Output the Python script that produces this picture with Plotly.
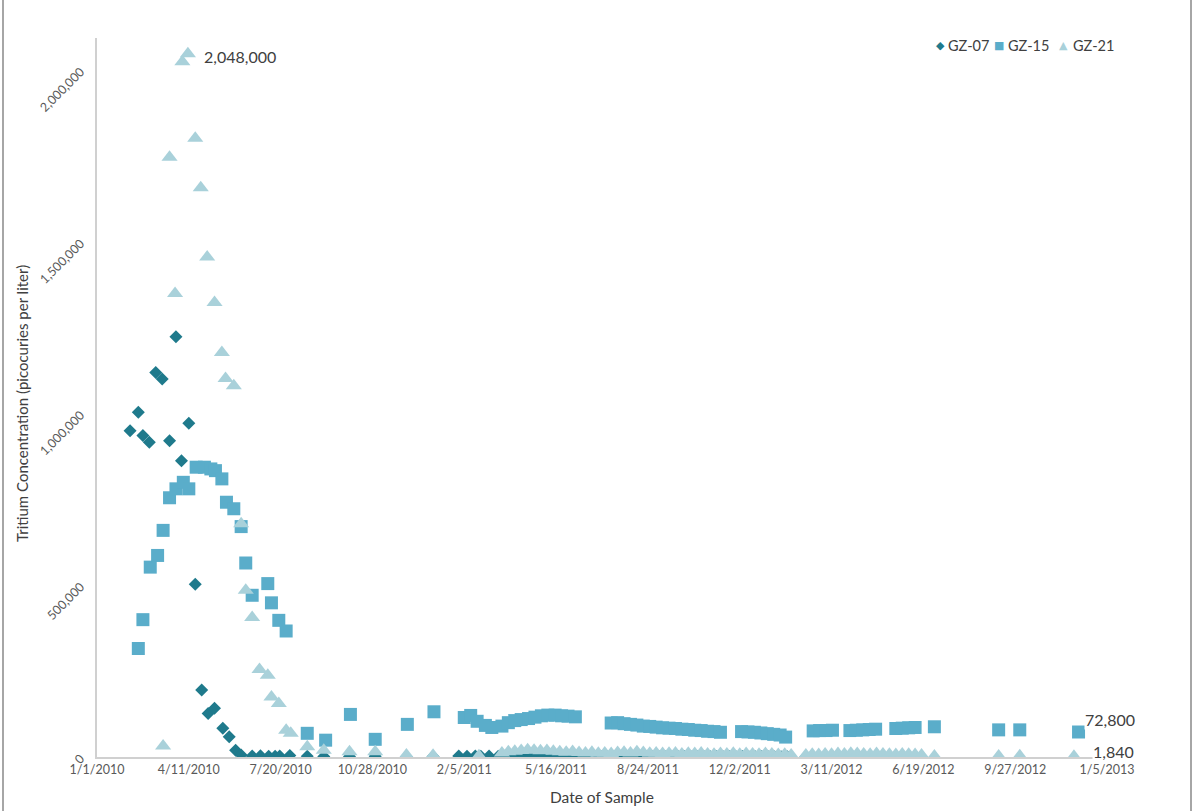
import plotly.graph_objects as go

# ---------------- data ----------------
gz07_dates = [
    "2010-02-06", "2010-02-15", "2010-02-20", "2010-02-27", "2010-03-06", "2010-03-13",
    "2010-03-21", "2010-03-28", "2010-04-03", "2010-04-11", "2010-04-18", "2010-04-25",
    "2010-05-02", "2010-05-09", "2010-05-18", "2010-05-25", "2010-06-01", "2010-06-07",
    "2010-06-19", "2010-06-28", "2010-07-07", "2010-07-14", "2010-07-19", "2010-07-30",
    "2010-08-18", "2010-09-05", "2010-10-03", "2010-10-31", "2010-12-04", "2011-01-02",
    "2011-01-30", "2011-02-08", "2011-02-17", "2011-02-23", "2011-03-04", "2011-03-14",
    "2011-03-21", "2011-03-28", "2011-04-04", "2011-04-11", "2011-04-18", "2011-04-25",
    "2011-05-02", "2011-05-09", "2011-05-16", "2011-05-23", "2011-05-30", "2011-06-06",
    "2011-06-13", "2011-06-20", "2011-06-27", "2011-07-04", "2011-07-11", "2011-07-18",
    "2011-07-25", "2011-08-01", "2011-08-08", "2011-08-15", "2011-08-22", "2011-08-29",
    "2011-09-05", "2011-09-12", "2011-09-19", "2011-09-26", "2011-10-03", "2011-10-10",
    "2011-10-17", "2011-10-24", "2011-10-31", "2011-11-07", "2011-11-14", "2011-11-21",
    "2011-11-28", "2011-12-05", "2011-12-12", "2011-12-19", "2011-12-26", "2012-01-02",
    "2012-01-09", "2012-01-16", "2012-01-23", "2012-02-12", "2012-03-17",
]
gz07_values = [
    950000, 1004000, 936000, 917000, 1120000, 1101000,
    921000, 1224000, 863000, 972000, 503000, 195000,
    127000, 142000, 84000, 59000, 20000, 6000,
    3000, 3500, 2500, 2000, 3000, 4500,
    2500, 1500, 1500, 2000, 1000, 1200,
    3000, 2500, 3000, 2500, 3000, 2000,
    2000, 1500, 1800, 1200, 1500, 1700,
    1400, 1600, 1300, 1500, 1200, 1400,
    1600, 1300, 1500, 1200, 1400, 1100,
    1300, 1500, 1200, 1400, 1100, 1300,
    1200, 1000, 1300, 1100, 1200, 1000,
    1100, 1300, 1000, 1200, 900, 1100,
    1000, 1200, 900, 1000, 1100, 900,
    1000, 800, 900, 800, 700,
]

gz15_dates = [
    "2010-02-15", "2010-02-20", "2010-02-28", "2010-03-08", "2010-03-14", "2010-03-21",
    "2010-03-28", "2010-04-05", "2010-04-11", "2010-04-19", "2010-04-28", "2010-05-05",
    "2010-05-10", "2010-05-17", "2010-05-22", "2010-05-30", "2010-06-07", "2010-06-12",
    "2010-06-19", "2010-07-06", "2010-07-10", "2010-07-18", "2010-07-26", "2010-08-18",
    "2010-09-07", "2010-10-04", "2010-10-31", "2010-12-05", "2011-01-03",
    "2011-02-05", "2011-02-12", "2011-02-19", "2011-02-28", "2011-03-07", "2011-03-18",
    "2011-03-25", "2011-04-01", "2011-04-08", "2011-04-16", "2011-04-23", "2011-04-30",
    "2011-05-07", "2011-05-15", "2011-05-22", "2011-05-29", "2011-06-06",
    "2011-07-15", "2011-07-22", "2011-07-29", "2011-08-05", "2011-08-12", "2011-08-19",
    "2011-08-26", "2011-09-02", "2011-09-09", "2011-09-16", "2011-09-23", "2011-09-30",
    "2011-10-07", "2011-10-14", "2011-10-21", "2011-10-28", "2011-11-04", "2011-11-11",
    "2011-12-04", "2011-12-11", "2011-12-18", "2011-12-25", "2012-01-01", "2012-01-08",
    "2012-01-15", "2012-01-21",
    "2012-02-20", "2012-02-27", "2012-03-05", "2012-03-12",
    "2012-03-31", "2012-04-07", "2012-04-14", "2012-04-21", "2012-04-28",
    "2012-05-20", "2012-05-27", "2012-06-03", "2012-06-10", "2012-07-01",
    "2012-09-09", "2012-10-02", "2012-12-05",
]
gz15_values = [
    316000, 400000, 553000, 587000, 660000, 755000,
    781000, 800000, 781000, 844000, 844000, 839000,
    834000, 810000, 742000, 723000, 671000, 565000,
    471000, 505000, 449000, 398000, 367000, 69000,
    49000, 124000, 51500, 95000, 131700,
    115000, 121000, 104000, 92000, 86000, 90000,
    100000, 106000, 109000, 112000, 116000, 120000,
    122000, 122000, 120000, 119000, 117000,
    99000, 100000, 97000, 95000, 93000, 90000,
    89000, 87000, 85000, 84000, 83000, 81000,
    80000, 78000, 77000, 75000, 74000, 72000,
    74000, 73000, 72000, 70000, 68000, 66000,
    64000, 58000,
    76000, 77000, 77000, 78000,
    77000, 78000, 79000, 80000, 81000,
    83000, 84000, 85000, 86000, 88000,
    79000, 79000, 72800,
]

gz21_dates = [
    "2010-03-14", "2010-03-21", "2010-03-27", "2010-04-04", "2010-04-10", "2010-04-18",
    "2010-04-24", "2010-05-01", "2010-05-09", "2010-05-17", "2010-05-21", "2010-05-30",
    "2010-06-07", "2010-06-12", "2010-06-19", "2010-06-27", "2010-07-06", "2010-07-10",
    "2010-07-18", "2010-07-26", "2010-07-31", "2010-08-18", "2010-09-05", "2010-10-03",
    "2010-10-31", "2010-12-04", "2011-01-02", "2011-02-21",
    "2011-03-18", "2011-03-25", "2011-04-01", "2011-04-08", "2011-04-15", "2011-04-22",
    "2011-04-29", "2011-05-06", "2011-05-13", "2011-05-20", "2011-05-27", "2011-06-03",
    "2011-06-10", "2011-06-17", "2011-06-24", "2011-07-01", "2011-07-08", "2011-07-15",
    "2011-07-22", "2011-07-29", "2011-08-05", "2011-08-12", "2011-08-19", "2011-08-26",
    "2011-09-02", "2011-09-09", "2011-09-16", "2011-09-23", "2011-09-30", "2011-10-07",
    "2011-10-14", "2011-10-21", "2011-10-28", "2011-11-04", "2011-11-11", "2011-11-18",
    "2011-11-25", "2011-12-02", "2011-12-09", "2011-12-16", "2011-12-23", "2011-12-30",
    "2012-01-06", "2012-01-13", "2012-01-20", "2012-01-27",
    "2012-02-12", "2012-02-19", "2012-02-26", "2012-03-04", "2012-03-11", "2012-03-18",
    "2012-03-25", "2012-04-01", "2012-04-08", "2012-04-15", "2012-04-22", "2012-04-29",
    "2012-05-06", "2012-05-13", "2012-05-20", "2012-05-27", "2012-06-03", "2012-06-10",
    "2012-06-17", "2012-07-01", "2012-09-09", "2012-10-02", "2012-11-30",
]
gz21_values = [
    32000, 1747000, 1350000, 2025000, 2048000, 1802000,
    1658000, 1456000, 1324000, 1178000, 1102000, 1081000,
    679000, 486000, 406000, 255000, 238000, 175000,
    156000, 78000, 69000, 30000, 20000, 15000,
    15000, 6000, 5000, 4000,
    12000, 15000, 17000, 19000, 21000, 20000,
    18000, 19000, 17000, 15000, 14000, 16000,
    13000, 12000, 14000, 11000, 12000, 10000,
    13000, 14000, 12000, 15000, 13000, 11000,
    12000, 10000, 11000, 12000, 9000, 11000,
    10000, 12000, 9000, 8000, 10000, 9000,
    11000, 8000, 10000, 9000, 8000, 10000,
    9000, 7000, 8000, 6000,
    6000, 8000, 7000, 9000, 8000, 10000,
    9000, 11000, 10000, 9000, 8000, 10000,
    9000, 8000, 7000, 9000, 8000, 7000,
    6000, 3000, 3000, 3500, 1840,
]

series_names = ["GZ-07", "GZ-15", "GZ-21"]
legend_glyphs = ["\u25C6", "\u25A0", "\u25B2"]
x_tick_dates = ["2010-01-01", "2010-04-11", "2010-07-20", "2010-10-28", "2011-02-05", "2011-05-16",
                "2011-08-24", "2011-12-02", "2012-03-11", "2012-06-19", "2012-09-27", "2013-01-05"]
x_tick_labels = ["1/1/2010", "4/11/2010", "7/20/2010", "10/28/2010", "2/5/2011", "5/16/2011",
                 "8/24/2011", "12/2/2011", "3/11/2012", "6/19/2012", "9/27/2012", "1/5/2013"]
y_tick_values = [0, 500000, 1000000, 1500000, 2000000]
y_tick_labels = ["0", "500,000", "1,000,000", "1,500,000", "2,000,000"]
x_title = "Date of Sample"
y_title = "Tritium Concentration (picocuries per liter)"

# ---------------- styling ----------------
FONT = "Lato, 'Open Sans', sans-serif"
SYMFONT = "'DejaVu Sans', sans-serif"
C07, C15, C21 = "#1f7a8c", "#5aadca", "#a9d1da"
COLORS = [C07, C15, C21]
TXT = "#404040"
AX = "#d0d0d0"

L, R, T, B = 97, 92, 38, 54
PW, PH = 1199 - L - R, 811 - T - B


def px_x(px):
    return (px - L) / PW


def px_y(py):
    return (811 - B - py) / PH


fig = go.Figure()
specs = [
    (gz07_dates, gz07_values, series_names[0], "diamond", 10, C07),
    (gz15_dates, gz15_values, series_names[1], "square", 13, C15),
    (gz21_dates, gz21_values, series_names[2], "triangle-up", 14, C21),
]
for d, v, name, sym, size, col in specs:
    fig.add_trace(go.Scatter(x=d, y=v, mode="markers", name=name, showlegend=False,
                             marker=dict(symbol=sym, size=size, color=col, line=dict(width=0))))

# data labels
peak_i = gz21_values.index(max(gz21_values))
labels = [
    (gz21_dates[peak_i], gz21_values[peak_i], 15, -3),
    (gz15_dates[-1], gz15_values[-1], 5, 13),
    (gz21_dates[-1], gz21_values[-1], 18, 5),
]
for xd, yv, xs, ys in labels:
    fig.add_annotation(x=xd, y=yv, xref="x", yref="y", text=f"{yv:,}", showarrow=False,
                       xanchor="left", yanchor="middle", xshift=xs, yshift=ys,
                       bgcolor="white", borderpad=0,
                       font=dict(family=FONT, size=16, color=TXT))

# legend (compact, Excel-like): glyph + series name
legend_sym_px = [940, 999, 1063]
legend_txt_px = [946, 1006, 1071]
for g, name, col, sx, tx in zip(legend_glyphs, series_names, COLORS, legend_sym_px, legend_txt_px):
    fig.add_annotation(x=px_x(sx), y=px_y(45), xref="paper", yref="paper", text=g, showarrow=False,
                       xanchor="center", yanchor="middle",
                       font=dict(family=SYMFONT, size=11, color=col))
    fig.add_annotation(x=px_x(tx), y=px_y(45), xref="paper", yref="paper", text=name, showarrow=False,
                       xanchor="left", yanchor="middle",
                       font=dict(family=FONT, size=14.5, color=TXT))

# axis titles
fig.add_annotation(x=px_x(22), y=px_y(404), xref="paper", yref="paper", text=y_title, showarrow=False,
                   textangle=-90, xanchor="center", yanchor="middle",
                   font=dict(family=FONT, size=15, color=TXT))
fig.add_annotation(x=0.5, y=px_y(797), xref="paper", yref="paper", text=x_title, showarrow=False,
                   xanchor="center", yanchor="middle",
                   font=dict(family=FONT, size=15.5, color=TXT))

# outer frame lines (left and right borders)
for bx in (3, 1191):
    fig.add_shape(type="line", xref="paper", yref="paper", x0=px_x(bx), x1=px_x(bx),
                  y0=px_y(811), y1=px_y(0), line=dict(color="#a6a6a6", width=2))

fig.update_layout(
    width=1199, height=811, autosize=False,
    margin=dict(l=L, r=R, t=T, b=B, pad=0),
    paper_bgcolor="white", plot_bgcolor="white",
    font=dict(family=FONT, color=TXT),
    showlegend=False,
    xaxis=dict(type="date", range=["2010-01-01", "2013-01-05"], tickmode="array",
               tickvals=x_tick_dates, ticktext=x_tick_labels, showgrid=False, zeroline=False,
               showline=True, linecolor=AX, linewidth=1.5, ticks="",
               tickfont=dict(family=FONT, size=12.5, color="#595959")),
    yaxis=dict(range=[0, 2094000], tickmode="array", tickvals=y_tick_values, ticktext=y_tick_labels,
               tickangle=-45, showgrid=False, zeroline=False, showline=True, linecolor=AX,
               linewidth=1.5, ticks="", ticklabelstandoff=12,
               tickfont=dict(family=FONT, size=12.5, color="#595959")),
)

fig.write_html("out.html")
